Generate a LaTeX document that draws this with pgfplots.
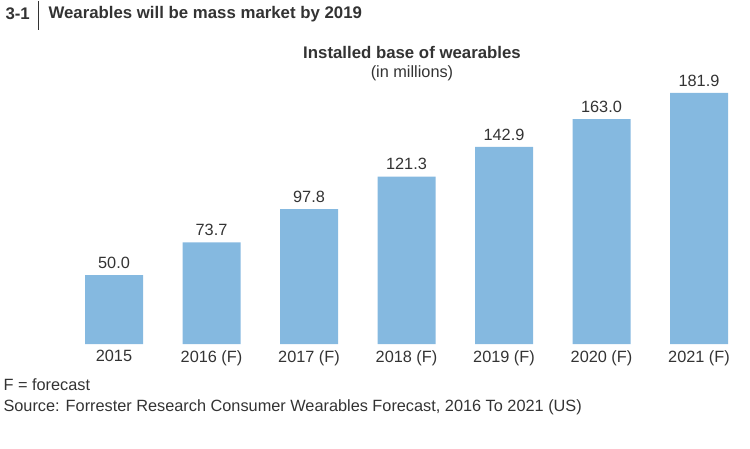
\documentclass[border=0pt]{standalone}
\usepackage{pgfplots}
\pgfplotsset{compat=1.18}
\usepackage{fontspec}
\setmainfont{Liberation Sans}
\definecolor{barblue}{RGB}{133,185,224}
\definecolor{txt}{RGB}{51,51,51}
\newcommand{\fs}{\fontsize{16.3}{19}\selectfont}
\newcommand{\fb}{\fontsize{16.8}{19}\selectfont\bfseries}
\begin{document}
\begin{tikzpicture}[x=1pt,y=1pt]
\path[use as bounding box] (0,0) rectangle (750,448);
\begin{axis}[
  at={(65.25pt,104pt)}, anchor=south west,
  scale only axis, width=682.5pt, height=276pt,
  xmin=-0.5, xmax=6.5, ymin=0, ymax=200,
  clip=false,
  axis line style={draw=none},
  ytick=\empty,
  xtick={0,...,6},
  xticklabels={2015,2016 (F),2017 (F),2018 (F),2019 (F),2020 (F),2021 (F)},
  major tick length=0pt,
  xticklabel style={font=\fs, text=txt, yshift=-3pt},
  ybar, bar width=58pt,
  nodes near coords={\pgfmathprintnumber[fixed,fixed zerofill,precision=1]{\pgfplotspointmeta}},
  nodes near coords style={font=\fs, text=txt, anchor=south, yshift=3pt},
  /pgf/number format/assume math mode=true,
]
\addplot[fill=barblue, draw=none] coordinates {
  (0,50.0) (1,73.7) (2,97.8) (3,121.3) (4,142.9) (5,163.0) (6,181.9)};
\end{axis}
\node[anchor=west, font=\fb, text=txt] at (2,434) {3-1};
\draw[txt, line width=0.9pt] (38,447) -- (38,418);
\node[anchor=west, font=\fb, text=txt] at (45,434) {Wearables will be mass market by 2019};
\node[font=\fb, text=txt] at (412,396) {Installed base of wearables};
\node[font=\fs, text=txt] at (412,375) {(in millions)};
\node[anchor=west, font=\fs, text=txt] at (0,63) {F = forecast};
\node[anchor=west, font=\fs, text=txt] at (0,41) {Source: Forrester Research Consumer Wearables Forecast, 2016 To 2021 (US)};
\end{tikzpicture}
\end{document}
